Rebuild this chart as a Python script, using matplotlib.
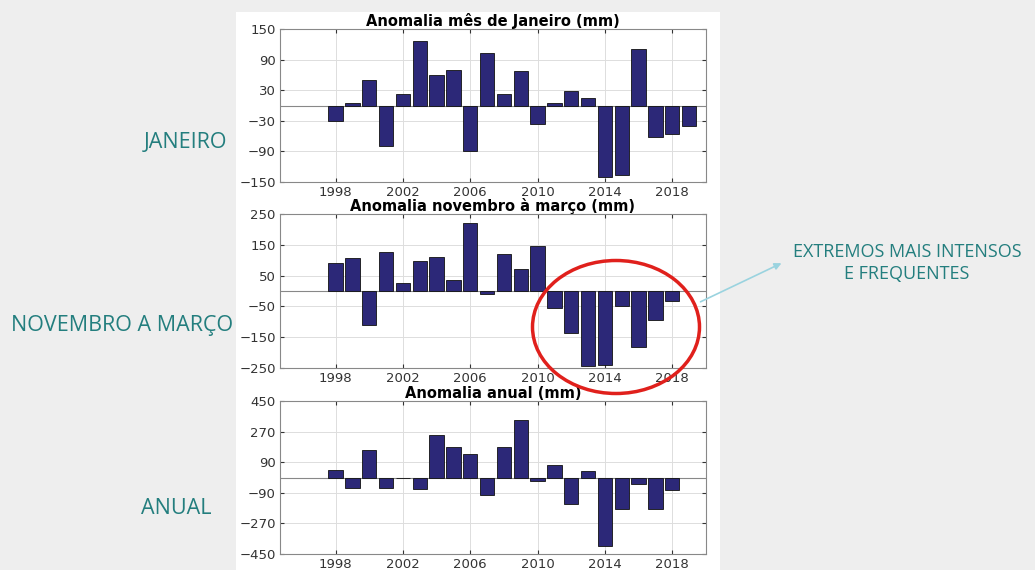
import matplotlib.pyplot as plt
from matplotlib.patches import Ellipse, Rectangle
import numpy as np

plt.rcParams['font.family'] = ['DejaVu Sans']

# anomalias (mm)
anos_jan = np.arange(1998, 2020)
jan = [-30, 4, 50, -80, 22, 127, 60, 70, -89, 102, 23, 68, -37, 4,
       28, 15, -140, -137, 110, -62, -55, -40]

anos_nm = np.arange(1998, 2019)
nov_mar = [90, 107, -111, 127, 26, 96, 112, 35, 222, -9, 120, 71, 147,
           -55, -135, -245, -239, -49, -183, -93, -33]

anos_anual = np.arange(1998, 2019)
anual = [45, -62, 160, -64, 0, -70, 252, 182, 137, -102, 178, 338, -23,
         76, -156, 39, -404, -187, -41, -187, -76]

titulos = ['Anomalia mês de Janeiro (mm)',
           'Anomalia novembro à março (mm)',
           'Anomalia anual (mm)']
rotulos = ['JANEIRO', 'NOVEMBRO A MARÇO', 'ANUAL']
yticks = [np.arange(-150, 151, 60), np.arange(-250, 251, 100), np.arange(-450, 451, 180)]

W, H = 1035, 570
fig = plt.figure(figsize=(W/100, H/100), dpi=100)
fig.patch.set_facecolor('#eeeeee')

# painel branco atrás dos gráficos
fundo = fig.add_axes([236/W, 0, (720-236)/W, 1-12/H], zorder=-1)
fundo.axis('off')
fundo.add_patch(Rectangle((0, 0), 1, 1, transform=fundo.transAxes,
                          facecolor='white', edgecolor='none'))

# posições dos eixos em pixels (topo, base)
pos = [(29, 182), (214, 368), (401, 554)]
x0, x1 = 280, 706
dados = [(anos_jan, jan), (anos_nm, nov_mar), (anos_anual, anual)]

for i in range(3):
    top, bot = pos[i]
    ax = fig.add_axes([x0/W, 1-bot/H, (x1-x0)/W, (bot-top)/H])
    anos, vals = dados[i]
    ax.bar(anos, vals, width=0.85, color='#2c2878', edgecolor='#111111',
           linewidth=0.6, zorder=3)
    ax.axhline(0, color='#888888', linewidth=0.8, zorder=2)
    ax.set_xlim(1994.7, 2020)
    lim = yticks[i][-1]
    ax.set_ylim(-lim, lim)
    ax.set_yticks(yticks[i])
    ax.set_xticks(np.arange(1998, 2019, 4))
    ax.grid(True, color='#dddddd', linewidth=0.7, zorder=0)
    ax.tick_params(direction='in', length=3, labelsize=9.5, colors='#333333',
                   top=True, right=True, pad=3)
    for s in ax.spines.values():
        s.set_color('#888888')
        s.set_linewidth(0.8)
    ax.set_title(titulos[i], fontsize=10.5, fontweight='bold', pad=2)

cor_txt = '#237e7e'
fonte = ['Open Sans', 'DejaVu Sans']
fig.text(185/W, 1-143/H, rotulos[0], ha='center', va='center', color=cor_txt,
         fontsize=15.5, family=fonte)
fig.text(122/W, 1-325/H, rotulos[1], ha='center', va='center', color=cor_txt,
         fontsize=15.5, family=fonte)
fig.text(176/W, 1-508/H, rotulos[2], ha='center', va='center', color=cor_txt,
         fontsize=15.5, family=fonte)

fig.text(907/W, 1-263/H, 'EXTREMOS MAIS INTENSOS\nE FREQUENTES', ha='center',
         va='center', color=cor_txt, fontsize=13, linespacing=1.25,
         family=fonte)

# destaque
ax_ov = fig.add_axes([0, 0, 1, 1], facecolor='none', zorder=10)
ax_ov.set_xlim(0, W)
ax_ov.set_ylim(H, 0)
ax_ov.axis('off')
ax_ov.add_patch(Ellipse((616, 327), 167, 133, fill=False,
                        edgecolor='#e0201c', linewidth=2.5))
ax_ov.annotate('', xy=(784, 262), xytext=(698, 303),
               arrowprops=dict(arrowstyle='-|>', color='#9ad3df', lw=1.2,
                               mutation_scale=10))

fig.savefig('out.png', dpi=100, facecolor=fig.get_facecolor())
